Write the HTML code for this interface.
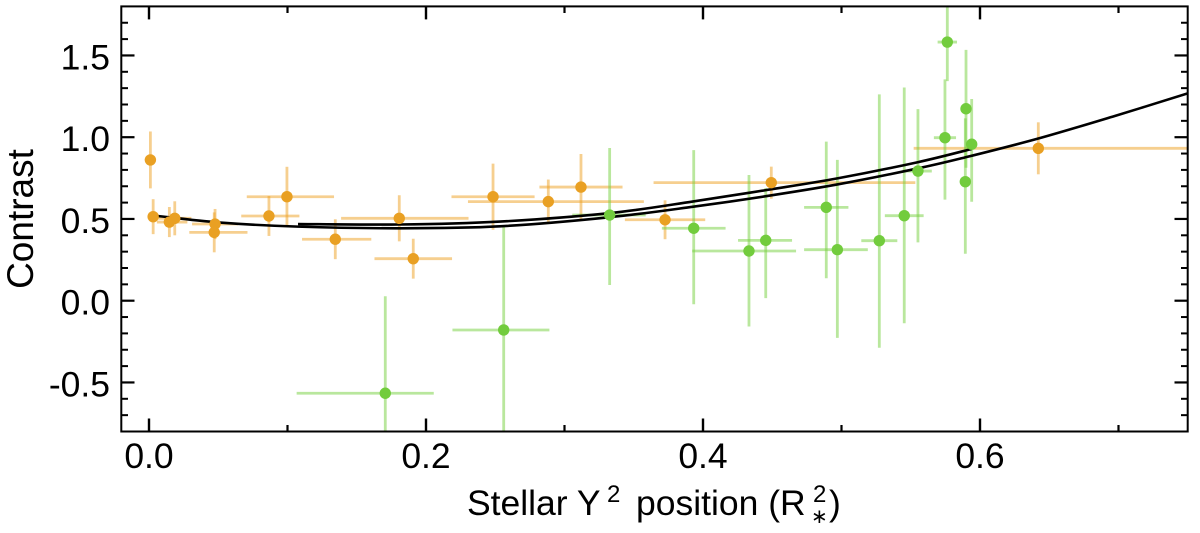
<!DOCTYPE html>
<html lang="en">
<head>
<meta charset="utf-8">
<title>Contrast vs stellar position</title>
<style>
html,body{margin:0;padding:0;background:#fff;width:1200px;height:533px;overflow:hidden}
svg{display:block}
text{font-family:"Liberation Sans",Arial,sans-serif;fill:#000}
</style>
</head>
<body>
<svg id="chart" width="1200" height="533" viewBox="0 0 1200 533" xmlns="http://www.w3.org/2000/svg">
  <defs><clipPath id="plot-clip"><rect x="121" y="6" width="1067" height="426"/></clipPath></defs>
  <rect width="1200" height="533" fill="#fff"/>
  <g id="errors" clip-path="url(#plot-clip)"></g>
  <g id="curves" clip-path="url(#plot-clip)"></g>
  <g id="points" clip-path="url(#plot-clip)"></g>
  <g id="axes"></g>
  <text transform="translate(33,219) rotate(-90)" text-anchor="middle" font-size="37">Contrast</text>
  <text y="515" font-size="35.5"><tspan x="467">Stellar Y</tspan><tspan x="607" y="502" font-size="24">2</tspan><tspan x="636" y="515">position (R</tspan><tspan x="813" y="502" font-size="24">2</tspan><tspan x="811" y="523" font-size="20">∗</tspan><tspan x="829" y="515">)</tspan></text>
</svg>
<script>
// Orange series
var orangeX = [0.001,0.003,0.0147,0.0186,0.0477,0.0471,0.0866,0.0996,0.1345,0.1807,0.1908,0.2484,0.2883,0.3119,0.3726,0.4493,0.6421];
var orangeY = [0.861,0.514,0.481,0.504,0.469,0.418,0.518,0.636,0.376,0.504,0.257,0.636,0.606,0.695,0.495,0.722,0.932];
var orangeXErrLow = [0,0.002,0.009,0.012,0.0166,0.018,0.020,0.029,0.024,0.042,0.028,0.030,0.058,0.030,0.029,0.085,0.090];
var orangeXErrHigh = [0,0.002,0.013,0.012,0.0166,0.024,0.022,0.034,0.026,0.050,0.028,0.030,0.069,0.030,0.029,0.104,0.150];
var orangeYErr = [0.174,0.107,0.092,0.104,0.092,0.122,0.122,0.183,0.122,0.141,0.122,0.202,0.135,0.202,0.119,0.098,0.159];

// Green series
var greenX = [0.1706,0.2561,0.3326,0.3933,0.4332,0.4453,0.489,0.497,0.5273,0.5453,0.5552,0.5747,0.5764,0.5899,0.5894,0.594];
var greenY = [-0.566,-0.179,0.524,0.443,0.304,0.369,0.571,0.312,0.367,0.520,0.793,0.997,1.582,1.174,0.728,0.957];
var greenXErrLow = [0.064,0.037,0.027,0.023,0.041,0.020,0.016,0.024,0.013,0.014,0.011,0.008,0.007,0.001,0.001,0.002];
var greenXErrHigh = [0.035,0.033,0.026,0.023,0.034,0.019,0.016,0.022,0.013,0.014,0.010,0.008,0.007,0.001,0.001,0.002];
var greenYErrUp = [0.593,0.630,0.410,0.478,0.465,0.320,0.402,0.549,0.895,0.784,0.379,0.357,0.239,0.360,0.387,0.277];
var greenYErrDown = [0.593,0.630,0.428,0.465,0.462,0.353,0.434,0.539,0.655,0.658,0.436,0.379,0.239,0.361,0.441,0.352];

// Fit curves
var orangeFitX = [0.0065,0.0513,0.1076,0.181,0.2534,0.333,0.393,0.446,0.497,0.555,0.589,0.6421,0.6985,0.75];
var orangeFitY = [0.518,0.478,0.453,0.443,0.455,0.511,0.575,0.640,0.711,0.809,0.876,0.992,1.133,1.268];
var greenFitX = [0.1076,0.181,0.2534,0.333,0.393,0.446,0.497,0.555,0.594];
var greenFitY = [0.469,0.466,0.484,0.536,0.607,0.677,0.748,0.847,0.928];

// Axis ticks
var xMajorTicks = [0.0,0.2,0.4,0.6];
var xMajorLabels = ["0.0","0.2","0.4","0.6"];
var xMinorTicks = [0.1,0.3,0.5,0.7];
var yMajorTicks = [-0.5,0.0,0.5,1.0,1.5];
var yMajorLabels = ["-0.5","0.0","0.5","1.0","1.5"];
var yMinorTicks = [-0.7,-0.6,-0.4,-0.3,-0.2,-0.1,0.1,0.2,0.3,0.4,0.6,0.7,0.8,0.9,1.1,1.2,1.3,1.4,1.6,1.7];

var NS = 'http://www.w3.org/2000/svg';
function sx(v){ return 149 + 1385 * v; }
function sy(v){ return 300.7 - 163.5 * v; }
function make(tag, attrs, parent){
  var el = document.createElementNS(NS, tag);
  for (var k in attrs) el.setAttribute(k, attrs[k]);
  parent.appendChild(el);
  return el;
}
var errorsG = document.getElementById('errors');
var curvesG = document.getElementById('curves');
var pointsG = document.getElementById('points');
var axesG = document.getElementById('axes');

function drawErrors(xs, ys, xl, xh, yu, yd, color, prefix){
  xs.forEach(function(x, i){
    var h = make('line', {x1:sx(x - xl[i]), x2:sx(x + xh[i]), y1:sy(ys[i]), y2:sy(ys[i]), stroke:color, 'stroke-width':2.8, 'stroke-opacity':0.5}, errorsG);
    
    
    var v = make('line', {x1:sx(x), x2:sx(x), y1:sy(ys[i] - yd[i]), y2:sy(ys[i] + yu[i]), stroke:color, 'stroke-width':2.8, 'stroke-opacity':0.5}, errorsG);
    
    
  });
}
function drawPoints(xs, ys, color, prefix){
  xs.forEach(function(x, i){
    var c = make('circle', {cx:sx(x), cy:sy(ys[i]), r:5.7, fill:color}, pointsG);
    
    
  });
}
function smoothPath(xs, ys){
  var p = xs.map(function(x, i){ return [sx(x), sy(ys[i])]; });
  var d = 'M' + p[0][0] + ' ' + p[0][1];
  for (var i = 0; i < p.length - 1; i++){
    var a = p[Math.max(i - 1, 0)], b = p[i], c = p[i + 1], e = p[Math.min(i + 2, p.length - 1)];
    d += ' C' + (b[0] + (c[0] - a[0]) / 6) + ' ' + (b[1] + (c[1] - a[1]) / 6) + ' ' +
         (c[0] - (e[0] - b[0]) / 6) + ' ' + (c[1] - (e[1] - b[1]) / 6) + ' ' + c[0] + ' ' + c[1];
  }
  return d;
}

drawErrors(orangeX, orangeY, orangeXErrLow, orangeXErrHigh, orangeYErr, orangeYErr, '#EDA020', 'orange');
drawErrors(greenX, greenY, greenXErrLow, greenXErrHigh, greenYErrUp, greenYErrDown, '#74CF3C', 'green');

var orangeFit = make('path', {d:smoothPath(orangeFitX, orangeFitY), fill:'none', stroke:'#000', 'stroke-width':2.6}, curvesG);


var greenFit = make('path', {d:smoothPath(greenFitX, greenFitY), fill:'none', stroke:'#000', 'stroke-width':2.6}, curvesG);



drawPoints(orangeX, orangeY, '#E9A023', 'orange');
drawPoints(greenX, greenY, '#72CC3D', 'green');

var frame = make('rect', {x:121.3, y:6.4, width:1066.4, height:425.1, fill:'none', stroke:'#000', 'stroke-width':2}, axesG);



function tick(x1, y1, x2, y2, w, name){
  var t = make('line', {x1:x1, y1:y1, x2:x2, y2:y2, stroke:'#000', 'stroke-width':w}, axesG);
  
  
}
xMajorTicks.forEach(function(v, i){
  tick(sx(v), 431.5, sx(v), 418.5, 2.4, 'x-major-tick');
  tick(sx(v), 6.4, sx(v), 19.4, 2.4, 'x-major-tick-top');
  var t = make('text', {x:sx(v), y:468, 'text-anchor':'middle', 'font-size':35.5}, axesG);
  
  
  t.textContent = xMajorLabels[i];
});
xMinorTicks.forEach(function(v){
  tick(sx(v), 431.5, sx(v), 425, 2.2, 'x-minor-tick');
  tick(sx(v), 6.4, sx(v), 13, 2.2, 'x-minor-tick-top');
});
yMajorTicks.forEach(function(v, i){
  tick(121.3, sy(v), 134.5, sy(v), 2.2, 'y-major-tick');
  tick(1187.7, sy(v), 1174.5, sy(v), 2.2, 'y-major-tick-right');
  var t = make('text', {x:110, y:sy(v) + 14, 'text-anchor':'end', 'font-size':35.5}, axesG);
  
  
  t.textContent = yMajorLabels[i];
});
yMinorTicks.forEach(function(v){
  tick(121.3, sy(v), 128, sy(v), 2, 'y-minor-tick');
  tick(1187.7, sy(v), 1181, sy(v), 2, 'y-minor-tick-right');
});
</script>
</body>
</html>
